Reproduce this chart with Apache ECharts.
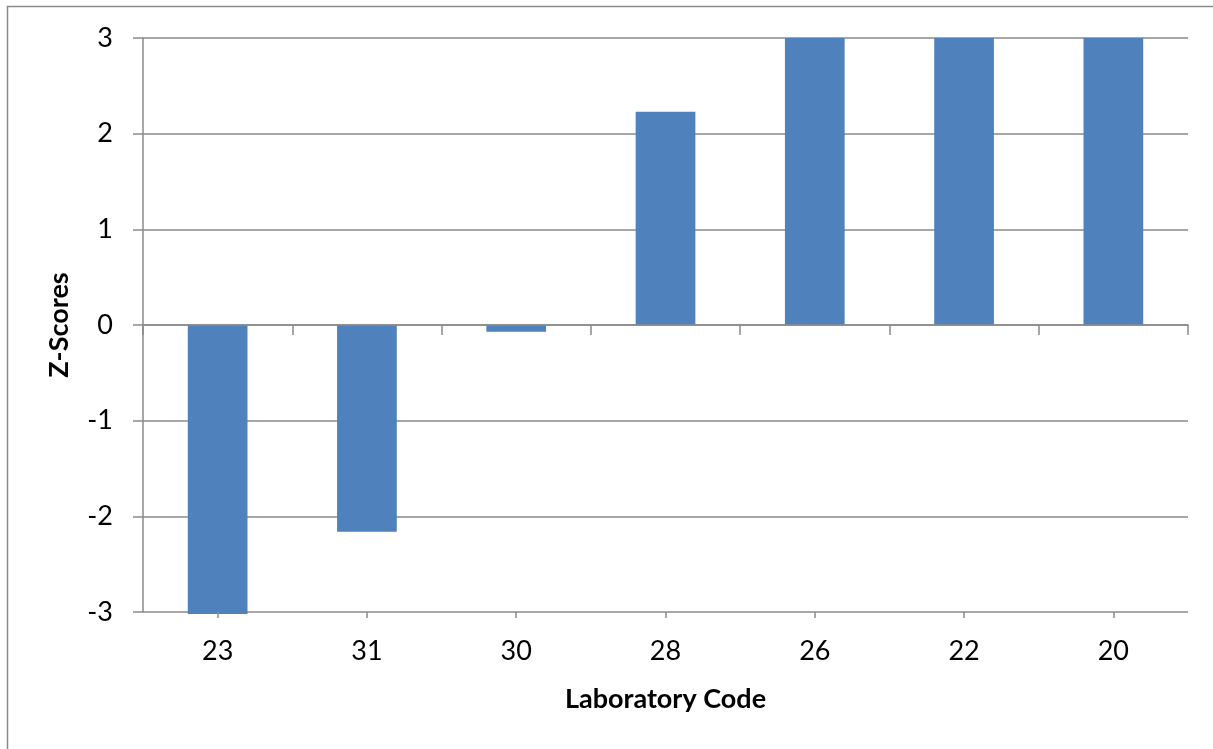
<!DOCTYPE html>
<html>
<head>
<meta charset="utf-8">
<script src="https://cdn.jsdelivr.net/npm/echarts@6/dist/echarts.min.js"></script>
<style>
html,body{margin:0;padding:0;background:#fff;}
#chart{width:1213px;height:749px;}
</style>
</head>
<body>
<div id="chart"></div>
<script>
const categories = ['23', '31', '30', '28', '26', '22', '20'];
const zScores = [-3.02, -2.16, -0.07, 2.23, 3, 3, 3];
const yTicks = { min: -3, max: 3, interval: 1 };

const gray = '#8a8a8a';
const font = 'Lato, "Open Sans", sans-serif';
const fs = 27;

const chart = echarts.init(document.getElementById('chart'), null, { renderer: 'canvas' });
chart.setOption({
  animation: false,
  backgroundColor: '#fff',
  graphic: [{
    type: 'rect',
    shape: { x: 7.5, y: 6.5, width: 1400, height: 1000 },
    style: { fill: 'none', stroke: gray, lineWidth: 1.5 },
    silent: true,
    z: -10
  }],
  grid: { left: 143, right: 25, top: 38, bottom: 137 },
  xAxis: [
    {
      type: 'category', data: categories, position: 'bottom',
      axisLine: { onZero: true, lineStyle: { color: gray, width: 1.5 } },
      axisTick: { show: true, length: 10, interval: 0, lineStyle: { color: gray, width: 1.5 } },
      axisLabel: { show: false },
      splitLine: { show: false }, z: 5
    },
    {
      type: 'category', data: categories, position: 'bottom',
      axisLine: { show: false, onZero: true },
      axisTick: { show: true, alignWithLabel: true, length: 6, interval: 0, lineStyle: { color: gray, width: 1.5 } },
      axisLabel: { show: false },
      splitLine: { show: false }, z: 5
    },
    {
      type: 'category', data: categories, position: 'bottom',
      axisLine: { show: false, onZero: false },
      axisTick: { show: false },
      axisLabel: { show: true, margin: 26, fontSize: fs, color: '#000', fontFamily: font, interval: 0 },
      name: 'Laboratory Code', nameLocation: 'middle', nameGap: 74,
      nameTextStyle: { fontSize: fs, fontWeight: 'bold', color: '#000', fontFamily: font }
    }
  ],
  yAxis: {
    type: 'value', min: yTicks.min, max: yTicks.max, interval: yTicks.interval,
    axisLine: { show: true, lineStyle: { color: gray, width: 1.5 } },
    axisTick: { show: true, length: 10, lineStyle: { color: gray, width: 1.5 } },
    axisLabel: { margin: 30, fontSize: fs, color: '#000', fontFamily: font },
    splitLine: { show: true, lineStyle: { color: gray, width: 1.5 } },
    name: 'Z-Scores', nameLocation: 'middle', nameGap: 70,
    nameTextStyle: { fontSize: fs, fontWeight: 'bold', color: '#000', fontFamily: font }
  },
  series: [{
    type: 'bar', xAxisIndex: 0, data: zScores, barWidth: '40%', clip: false,
    itemStyle: { color: '#4F81BD' }, z: 2
  }]
});
</script>
</body>
</html>
